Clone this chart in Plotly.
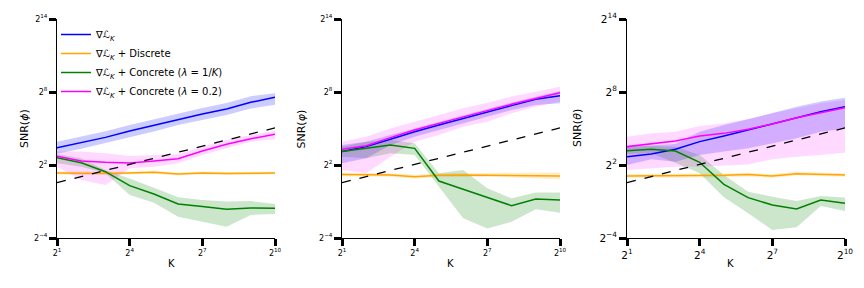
import plotly.graph_objects as go

# K values (x axis), exponents of 2
K_EXP = [1, 2, 3, 4, 5, 6, 7, 8, 9, 10]
X_TICK_VALS = [1, 4, 7, 10]
X_TICK_TEXT = ["2<sup>1</sup>", "2<sup>4</sup>", "2<sup>7</sup>", "2<sup>10</sup>"]
Y_TICK_VALS = [-4, 2, 8, 14]
Y_TICK_TEXT = ["2<sup>−4</sup>", "2<sup>2</sup>", "2<sup>8</sup>", "2<sup>14</sup>"]

# reference sqrt(K) dashed line (log2 SNR at K=2^1 and K=2^10)
REF_X = [1, 10]
REF_Y = [0.55, 5.05]

# ---- panel 1: SNR(phi), log2 values ----
p1_blue = [3.42, 3.84, 4.27, 4.79, 5.26, 5.78, 6.19, 6.60, 7.15, 7.56]
p1_blue_lo = [2.92, 3.34, 3.77, 4.29, 4.76, 5.28, 5.69, 6.10, 6.65, 6.95]
p1_blue_hi = [3.92, 4.34, 4.77, 5.29, 5.76, 6.28, 6.69, 7.10, 7.65, 7.90]
p1_orange = [1.34, 1.30, 1.30, 1.35, 1.40, 1.25, 1.35, 1.30, 1.30, 1.35]
p1_orange_lo = [1.22, 1.18, 1.18, 1.23, 1.28, 1.13, 1.23, 1.18, 1.18, 1.23]
p1_orange_hi = [1.46, 1.42, 1.42, 1.47, 1.52, 1.37, 1.47, 1.42, 1.42, 1.47]
p1_green = [2.60, 2.19, 1.45, 0.30, -0.38, -1.20, -1.42, -1.64, -1.53, -1.56]
p1_green_lo = [2.14, 1.86, 1.32, -0.47, -1.10, -2.25, -2.66, -3.07, -2.11, -2.03]
p1_green_hi = [2.90, 2.55, 1.59, 0.90, 0.14, -0.66, -0.88, -1.01, -0.96, -1.21]
p1_magenta = [2.71, 2.33, 2.22, 2.16, 2.33, 2.51, 3.15, 3.70, 4.16, 4.52]
p1_magenta_lo = [1.86, 0.77, 0.36, 1.73, 1.86, 2.14, 2.82, 3.37, 3.92, 4.11]
p1_magenta_hi = [3.10, 3.10, 2.96, 2.74, 2.82, 2.90, 3.51, 4.05, 4.47, 4.82]

# ---- panel 2: SNR(varphi) ----
p2_blue = [3.10, 3.51, 4.11, 4.74, 5.29, 5.84, 6.33, 6.88, 7.40, 7.70]
p2_blue_lo = [2.14, 2.55, 3.64, 4.33, 4.88, 5.42, 5.97, 6.52, 6.93, 7.07]
p2_blue_hi = [3.64, 3.92, 4.47, 5.01, 5.56, 6.11, 6.60, 7.12, 7.62, 8.08]
p2_orange = [1.21, 1.21, 1.18, 1.04, 1.15, 1.18, 1.18, 1.15, 1.12, 1.10]
p2_orange_lo = [1.06, 1.06, 1.03, 0.89, 1.00, 1.03, 1.03, 0.98, 0.92, 0.82]
p2_orange_hi = [1.36, 1.36, 1.33, 1.19, 1.30, 1.33, 1.33, 1.32, 1.32, 1.38]
p2_green = [3.10, 3.37, 3.64, 3.37, 0.68, 0.00, -0.68, -1.34, -0.79, -0.88]
p2_green_lo = [2.68, 2.55, 2.96, 2.82, 0.22, -2.38, -3.21, -2.66, -1.64, -1.92]
p2_green_hi = [3.51, 3.92, 4.05, 3.78, 1.32, 1.59, 0.08, -0.74, -0.27, -0.27]
p2_magenta = [3.29, 3.59, 4.25, 4.88, 5.42, 5.97, 6.47, 6.99, 7.48, 7.95]
p2_magenta_lo = [1.59, 1.32, 2.68, 3.92, 4.47, 5.15, 5.56, 6.25, 6.79, 7.21]
p2_magenta_hi = [3.92, 4.33, 5.01, 5.56, 6.11, 6.66, 7.12, 7.62, 8.03, 8.44]

# ---- panel 3: SNR(theta) ----
p3_blue = [2.68, 2.90, 3.29, 3.92, 4.38, 4.88, 5.37, 5.92, 6.38, 6.79]
p3_blue_lo = [2.00, 2.47, 2.27, 2.82, 3.10, 3.37, 3.78, 4.19, 4.74, 5.01]
p3_blue_hi = [3.51, 3.64, 3.73, 4.74, 5.29, 5.75, 6.25, 6.79, 7.21, 7.53]
p3_orange = [1.10, 1.12, 1.10, 1.10, 1.15, 1.21, 1.10, 1.29, 1.23, 1.18]
p3_orange_lo = [0.95, 0.97, 0.95, 0.95, 1.00, 1.06, 0.95, 1.14, 1.08, 1.03]
p3_orange_hi = [1.25, 1.27, 1.25, 1.25, 1.30, 1.36, 1.25, 1.44, 1.38, 1.33]
p3_green = [3.18, 3.29, 3.15, 2.22, 0.41, -0.68, -1.29, -1.62, -0.88, -1.15]
p3_green_lo = [2.90, 2.96, 2.19, 1.32, -0.66, -1.97, -3.34, -3.12, -1.38, -1.78]
p3_green_hi = [3.51, 3.56, 3.51, 2.82, 1.18, -0.19, -0.60, -0.96, -0.55, -0.68]
p3_magenta = [3.51, 3.73, 3.97, 4.38, 4.60, 4.93, 5.37, 5.89, 6.33, 6.71]
p3_magenta_lo = [1.59, 1.73, 1.86, 1.86, 1.95, 2.05, 2.47, 2.68, 2.82, 3.01]
p3_magenta_hi = [4.33, 4.60, 4.74, 5.20, 5.42, 5.78, 6.25, 6.66, 7.07, 7.34]

SERIES_NAMES = [
    "∇<i>ℒ</i><sub><i>K</i></sub>",
    "∇<i>ℒ</i><sub><i>K</i></sub> + Discrete",
    "∇<i>ℒ</i><sub><i>K</i></sub> + Concrete (<i>λ</i> = 1/<i>K</i>)",
    "∇<i>ℒ</i><sub><i>K</i></sub> + Concrete (<i>λ</i> = 0.2)",
]
COLORS = ["#0000ff", "#ffa500", "#008000", "#ff00ff"]
FILLS = ["rgba(0,0,255,0.2)", "rgba(255,165,0,0.2)", "rgba(0,128,0,0.2)", "rgba(255,0,255,0.15)"]
Y_TITLES = ["SNR(<i>ϕ</i>)", "SNR(<i>φ</i>)", "SNR(<i>θ</i>)"]
TICK_SIZES = [8, 8, 10.5]

panels = [
    [(p1_blue, p1_blue_lo, p1_blue_hi), (p1_orange, p1_orange_lo, p1_orange_hi),
     (p1_green, p1_green_lo, p1_green_hi), (p1_magenta, p1_magenta_lo, p1_magenta_hi)],
    [(p2_blue, p2_blue_lo, p2_blue_hi), (p2_orange, p2_orange_lo, p2_orange_hi),
     (p2_green, p2_green_lo, p2_green_hi), (p2_magenta, p2_magenta_lo, p2_magenta_hi)],
    [(p3_blue, p3_blue_lo, p3_blue_hi), (p3_orange, p3_orange_lo, p3_orange_hi),
     (p3_green, p3_green_lo, p3_green_hi), (p3_magenta, p3_magenta_lo, p3_magenta_hi)],
]

W, H = 864, 288
x_domains = [(57 / W, 275 / W), (342 / W, 560 / W), (627 / W, 845 / W)]
y_domain = (1 - 238 / H, 1 - 19 / H)

fig = go.Figure()
FONT = "DejaVu Sans"

for pi, series in enumerate(panels):
    xa = "x" if pi == 0 else f"x{pi + 1}"
    ya = "y" if pi == 0 else f"y{pi + 1}"
    for si, (m, lo, hi) in enumerate(series):
        fig.add_trace(go.Scatter(
            x=K_EXP + K_EXP[::-1], y=hi + lo[::-1], fill="toself",
            fillcolor=FILLS[si], line=dict(width=0), mode="lines",
            showlegend=False, hoverinfo="skip", xaxis=xa, yaxis=ya))
    for si, (m, lo, hi) in enumerate(series):
        fig.add_trace(go.Scatter(
            x=K_EXP, y=m, mode="lines", line=dict(color=COLORS[si], width=1.5),
            name=SERIES_NAMES[si], showlegend=(pi == 0), xaxis=xa, yaxis=ya))
    fig.add_trace(go.Scatter(
        x=REF_X, y=REF_Y, mode="lines", line=dict(color="black", width=1.3, dash="dash"),
        showlegend=False, xaxis=xa, yaxis=ya))

    axis_common = dict(showgrid=False, zeroline=False, showline=True, linecolor="black",
                       linewidth=1, ticks="outside", ticklen=7, tickwidth=3,
                       tickcolor="black", automargin=False,
                       tickfont=dict(family=FONT, size=TICK_SIZES[pi], color="black"))
    fig.layout[f"xaxis{'' if pi == 0 else pi + 1}"] = dict(
        domain=list(x_domains[pi]), range=[1, 10], anchor=ya,
        tickvals=X_TICK_VALS, ticktext=X_TICK_TEXT, **axis_common)
    fig.layout[f"yaxis{'' if pi == 0 else pi + 1}"] = dict(
        domain=list(y_domain), range=[-4, 14], anchor=xa,
        tickvals=Y_TICK_VALS, ticktext=Y_TICK_TEXT, **axis_common)

    xc = (x_domains[pi][0] + x_domains[pi][1]) / 2
    fig.add_annotation(x=xc, y=1 - 271 / H, xref="paper", yref="paper", text="K",
                       showarrow=False, font=dict(family=FONT, size=10, color="black"))
    fig.add_annotation(x=x_domains[pi][0] - 41 / W, y=(y_domain[0] + y_domain[1]) / 2,
                       xref="paper", yref="paper", text=Y_TITLES[pi], textangle=-90,
                       showarrow=False, font=dict(family=FONT, size=11, color="black"))

fig.update_layout(
    width=W, height=H, margin=dict(l=0, r=0, t=0, b=0, autoexpand=False),
    paper_bgcolor="white", plot_bgcolor="white",
    font=dict(family=FONT, size=10, color="black"),
    legend=dict(x=56 / W, y=1 - 20 / H, xanchor="left", yanchor="top",
                bgcolor="rgba(0,0,0,0)", font=dict(family=FONT, size=10),
                tracegroupgap=0),
)

fig.write_html("out.html", config={"displayModeBar": False},
               post_script="document.body.style.margin='0px';")
